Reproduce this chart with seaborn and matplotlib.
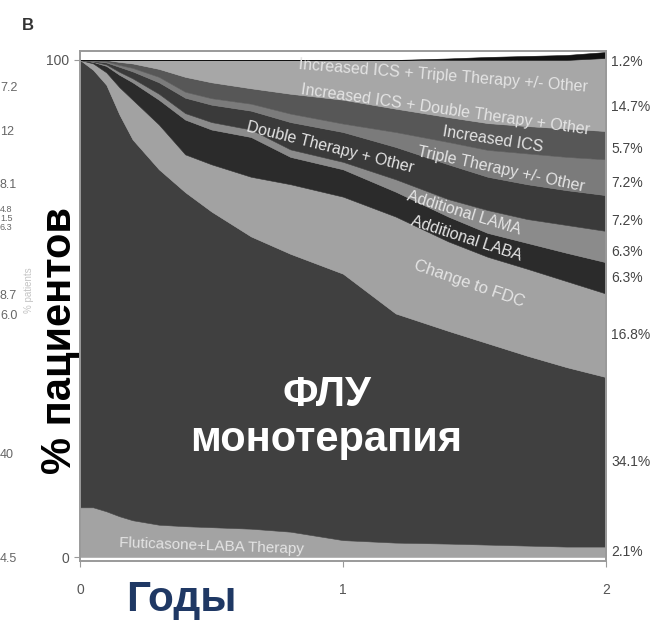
import matplotlib
matplotlib.use("Agg")
import matplotlib.pyplot as plt
import pandas as pd
import seaborn as sns

# Time since start of therapy, years
years = [0, 0.05, 0.1, 0.15, 0.2, 0.3, 0.4, 0.5, 0.65, 0.8, 1.0, 1.2, 1.4, 1.55, 1.7, 1.85, 2.0]

# Share of patients (%) on each regimen, bottom of the stack first
flut_laba = [10.0, 10.0, 9.2, 8.2, 7.4, 6.5, 6.2, 6.0, 5.7, 5.1, 3.4, 2.9, 2.7, 2.5, 2.3, 2.1, 2.1]
flu_mono = [90.0, 88.0, 85.8, 80.8, 76.6, 71.5, 67.2, 63.5, 58.8, 55.9, 53.6, 46.1, 42.8, 40.5, 38.2, 36.1, 34.1]
change_fdc = [0, 1.3, 2.5, 5.5, 8.0, 9.0, 7.6, 9.5, 12.0, 14.0, 15.5, 19.5, 18.0, 17.4, 17.5, 17.3, 16.8]
add_laba = [0, 0.3, 1.3, 2.5, 3.5, 5.0, 7.0, 7.0, 8.0, 5.5, 5.5, 5.0, 5.0, 4.8, 5.2, 5.7, 6.3]
add_lama = [0, 0.1, 0.3, 0.6, 0.8, 1.2, 1.3, 1.5, 1.5, 1.5, 1.5, 2.5, 3.5, 4.6, 4.8, 5.6, 6.3]
double_other = [0, 0.1, 0.4, 1.0, 1.4, 2.3, 3.1, 3.5, 3.8, 5.5, 6.0, 6.5, 7.0, 6.7, 7.0, 7.0, 7.2]
triple_other = [0, 0.1, 0.2, 0.4, 0.7, 1.1, 1.2, 1.3, 1.4, 1.7, 1.7, 3.0, 4.5, 5.4, 6.2, 6.7, 7.2]
inc_ics = [0, 0.1, 0.3, 0.6, 0.9, 1.6, 3.0, 3.2, 3.1, 4.0, 4.8, 4.7, 5.0, 5.4, 5.5, 5.7, 5.7]
inc_ics_double = [0, 0, 0, 0.4, 0.7, 1.8, 3.4, 4.5, 5.7, 6.8, 8.0, 9.8, 11.5, 12.7, 13.3, 13.8, 14.7]
inc_ics_triple = [0, 0, 0, 0, 0, 0, 0, 0, 0, 0, 0, 0, 0.3, 0.6, 0.8, 1.0, 1.2]

series = {
    "Fluticasone+LABA Therapy": flut_laba,
    "FLU monotherapy": flu_mono,
    "Change to FDC": change_fdc,
    "Additional LABA": add_laba,
    "Additional LAMA": add_lama,
    "Double Therapy + Other": double_other,
    "Triple Therapy +/- Other": triple_other,
    "Increased ICS": inc_ics,
    "Increased ICS + Double Therapy + Other": inc_ics_double,
    "Increased ICS + Triple Therapy +/- Other": inc_ics_triple,
}
df = pd.DataFrame(series, index=years)

greys = ["#a3a3a3", "#404040", "#a2a2a2", "#2b2b2b", "#8b8b8b",
         "#3a3a3a", "#7b7b7b", "#575757", "#a7a7a7", "#111111"]

sns.set_theme(style="white")
plt.rcParams["font.family"] = ["Liberation Sans", "DejaVu Sans"]

fig = plt.figure(figsize=(6.54, 6.27), dpi=100)
ax = fig.add_axes([80 / 654, 1 - 561 / 627, 526 / 654, 510 / 627])

ax.stackplot(df.index, *[df[c] for c in df.columns], colors=greys,
             edgecolor="face", linewidth=0.4)
ax.set_xlim(0, 2)
ax.set_ylim(-0.8, 101.8)

for side in ["left", "right", "top", "bottom"]:
    ax.spines[side].set_color("#9a9a9a")
    ax.spines[side].set_linewidth(1.4)

ax.set_xticks([0, 1, 2])
ax.set_yticks([0, 100])
ax.tick_params(axis="both", direction="out", length=4, width=0.8, color="#9a9a9a",
               labelsize=10, labelcolor="#555555", bottom=True, left=True)
ax.tick_params(axis="x", pad=12)

# Final share of each regimen, printed beside the right edge
cum = df.cumsum(axis=1).iloc[-1]
final = df.iloc[-1]
nudge = {"Increased ICS + Double Therapy + Other": -2.5,
         "Increased ICS + Triple Therapy +/- Other": -1.5,
         "Increased ICS": -0.8,
         "Triple Therapy +/- Other": -1.2,
         "Double Therapy + Other": -1.5,
         "Additional LAMA": -1.0}
for name in df.columns:
    centre = cum[name] - final[name] / 2 + nudge.get(name, 0)
    ax.text(2.02, centre, f"{final[name]:.1f}%", ha="left", va="center",
            fontsize=10, color="#444444", clip_on=False)

# Regimen names written along their bands
band_text = [
    ("Increased ICS + Triple Therapy +/- Other", 1.38, 96.7, -4.5, 11.5),
    ("Increased ICS + Double Therapy + Other", 1.39, 90.0, -8, 11.5),
    ("Increased ICS", 1.57, 84.0, -9, 11.5),
    ("Triple Therapy +/- Other", 1.60, 78.0, -12, 11.5),
    ("Double Therapy + Other", 0.95, 82.3, -14, 11.5),
    ("Additional LAMA", 1.46, 69.2, -17, 11.5),
    ("Additional LABA", 1.47, 64.0, -18, 11.5),
    ("Change to FDC", 1.48, 55.0, -19, 12),
    ("Fluticasone+LABA Therapy", 0.5, 2.2, -2, 11),
]
for txt, x, y, rot, fs in band_text:
    ax.text(x, y, txt, ha="center", va="center", rotation=rot,
            rotation_mode="anchor", fontsize=fs, color="#e4e4e4")

fig.text(327 / 654, 1 - 395 / 627, "ФЛУ", ha="center", va="center",
         fontsize=30, fontweight="bold", color="white")
fig.text(326 / 654, 1 - 440 / 627, "монотерапия", ha="center", va="center",
         fontsize=30, fontweight="bold", color="white")

fig.text(60 / 654, 1 - 340 / 627, "% пациентов", rotation=90, ha="center",
         va="center", fontsize=30, fontweight="bold", color="black")
fig.text(181 / 654, 1 - 600 / 627, "Годы", ha="center", va="center",
         fontsize=30.5, fontweight="bold", color="#1f3864")
fig.text(28 / 654, 1 - 25 / 627, "B", ha="center", va="center",
         fontsize=12, fontweight="bold", color="#333333")

# Fragments of the neighbouring panel's axis
side_vals = [("7.2", 88, 9), ("12", 132, 9), ("8.1", 185, 9), ("4.8", 210, 6.5),
             ("1.5", 219, 6.5), ("6.3", 228, 6.5), ("8.7", 296, 9), ("6.0", 316, 9),
             ("40", 455, 9), ("4.5", 559, 9)]
for s, py, fs in side_vals:
    fig.text(0 / 654, 1 - py / 627, s, ha="left", va="center", fontsize=fs,
             color="#666666")
fig.text(29 / 654, 1 - 290 / 627, "% patients", rotation=90, ha="center",
         va="center", fontsize=7, color="#c4c4c4")

fig.savefig("out.png", dpi=100)
